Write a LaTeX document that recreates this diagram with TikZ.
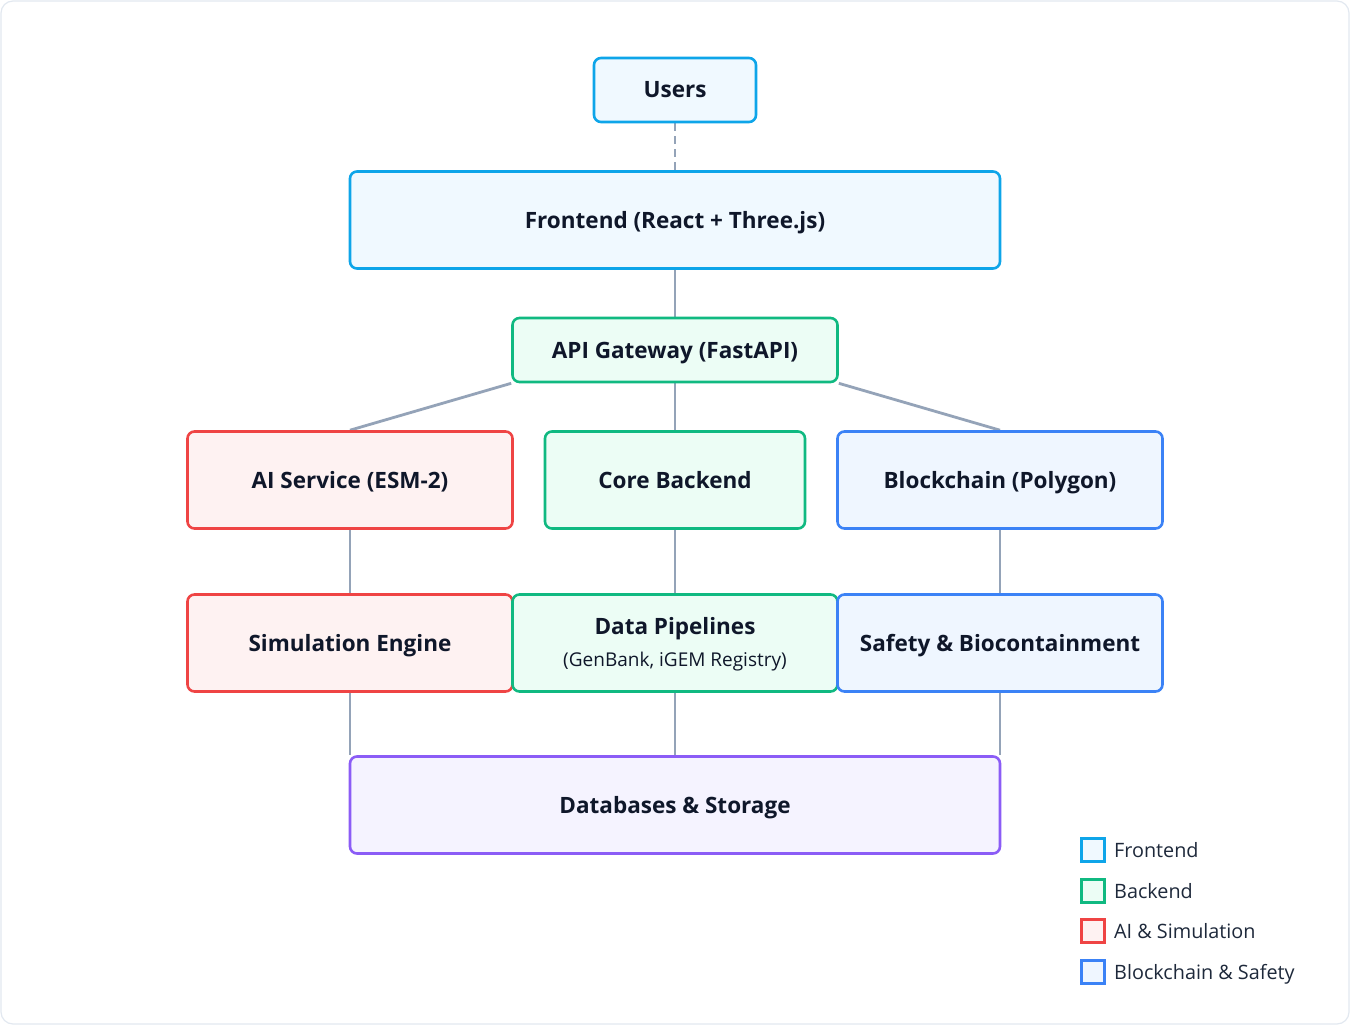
\documentclass[tikz,border=0pt]{standalone}
\usepackage{fontspec}
\setmainfont{Open Sans}
\usetikzlibrary{backgrounds}
\definecolor{txt}{HTML}{0F172A}
\definecolor{lgtxt}{HTML}{1E293B}
\definecolor{conn}{HTML}{94A3B8}
\definecolor{feB}{HTML}{0EA5E9}\definecolor{feF}{HTML}{F0F9FF}
\definecolor{beB}{HTML}{10B981}\definecolor{beF}{HTML}{ECFDF5}
\definecolor{aiB}{HTML}{EF4444}\definecolor{aiF}{HTML}{FEF2F2}
\definecolor{bcB}{HTML}{3B82F6}\definecolor{bcF}{HTML}{EFF6FF}
\definecolor{dbB}{HTML}{8B5CF6}\definecolor{dbF}{HTML}{F5F3FF}
\definecolor{frame}{HTML}{E2E8F0}
\tikzset{
  box/.style={draw, rounded corners=7pt, line width=2.6pt, inner sep=0pt, align=center,
    text=txt, font=\fontsize{22.5}{26}\selectfont\bfseries, text height=16pt, text depth=0pt},
  fe/.style={box, draw=feB, fill=feF},
  be/.style={box, draw=beB, fill=beF},
  ai/.style={box, draw=aiB, fill=aiF},
  bc/.style={box, draw=bcB, fill=bcF},
  db/.style={box, draw=dbB, fill=dbF},
  conn/.style={draw=conn, line width=2.8pt},
  lbl/.style={inner sep=0pt, text=txt, text height=16pt, text depth=0pt},
  lgbox/.style={draw, line width=2.6pt, minimum width=23pt, minimum height=23pt, inner sep=0pt},
  lgtext/.style={anchor=west, text=lgtxt, font=\fontsize{19.8}{22}\selectfont, inner sep=0pt, text height=14pt, text depth=0pt}
}
\begin{document}
\begin{tikzpicture}[x=1pt,y=-1pt]
\useasboundingbox (0,0) rectangle (1350,1025);

\node[fe, minimum width=162pt, minimum height=64pt] (users) at (675,90) {Users};
\node[fe, minimum width=650pt, minimum height=97pt] (front) at (675,220) {Frontend (React + Three.js)};
\node[be, minimum width=325pt, minimum height=64pt] (api) at (675,350) {API Gateway (FastAPI)};
\node[ai, minimum width=325pt, minimum height=97pt] (aisvc) at (350,480) {AI Service (ESM-2)};
\node[be, minimum width=260pt, minimum height=97pt] (core) at (675,480) {Core Backend};
\node[bc, minimum width=325pt, minimum height=97pt] (chain) at (1000,480) {Blockchain (Polygon)};
\node[ai, minimum width=325pt, minimum height=97pt] (sim) at (350,643) {Simulation Engine};
\node[be, minimum width=325pt, minimum height=97pt] (data) at (675,643) {};
\node[lbl, font=\fontsize{22.5}{26}\selectfont\bfseries] (datat) at (675,626) {Data Pipelines};
\node[lbl, font=\fontsize{19}{22}\selectfont, text height=13.5pt] (datas) at (675,660) {(GenBank, iGEM Registry)};
\node[bc, minimum width=325pt, minimum height=97pt] (safety) at (1000,643) {Safety \& Biocontainment};
\node[db, minimum width=650pt, minimum height=97pt] (dbs) at (675,805) {Databases \& Storage};

\begin{scope}[on background layer]
\draw[frame, line width=1.2pt, fill=white, rounded corners=12pt] (1,1) rectangle (1349,1024);
\draw[conn, dash pattern=on 8pt off 5pt] (users.south) -- (front.north);
\draw[conn] (front.south) -- (api.north);
\draw[conn] (api.south west) -- (aisvc.north);
\draw[conn] (api.south) -- (core.north);
\draw[conn] (api.south east) -- (chain.north);
\draw[conn] (aisvc.south) -- (sim.north);
\draw[conn] (core.south) -- (data.north);
\draw[conn] (chain.south) -- (safety.north);
\draw[conn] (sim.south) -- (sim.south |- dbs.north);
\draw[conn] (data.south) -- (dbs.north);
\draw[conn] (safety.south) -- (safety.south |- dbs.north);
\end{scope}

\node[lgbox, draw=feB, fill=feF] (l1) at (1093,850) {};
\node[lgtext] (t1) at (1114,850) {Frontend};
\node[lgbox, draw=beB, fill=beF] (l2) at (1093,891) {};
\node[lgtext] (t2) at (1114,891) {Backend};
\node[lgbox, draw=aiB, fill=aiF] (l3) at (1093,931) {};
\node[lgtext] (t3) at (1114,931) {AI \& Simulation};
\node[lgbox, draw=bcB, fill=bcF] (l4) at (1093,972) {};
\node[lgtext] (t4) at (1114,972) {Blockchain \& Safety};
\end{tikzpicture}
\end{document}
